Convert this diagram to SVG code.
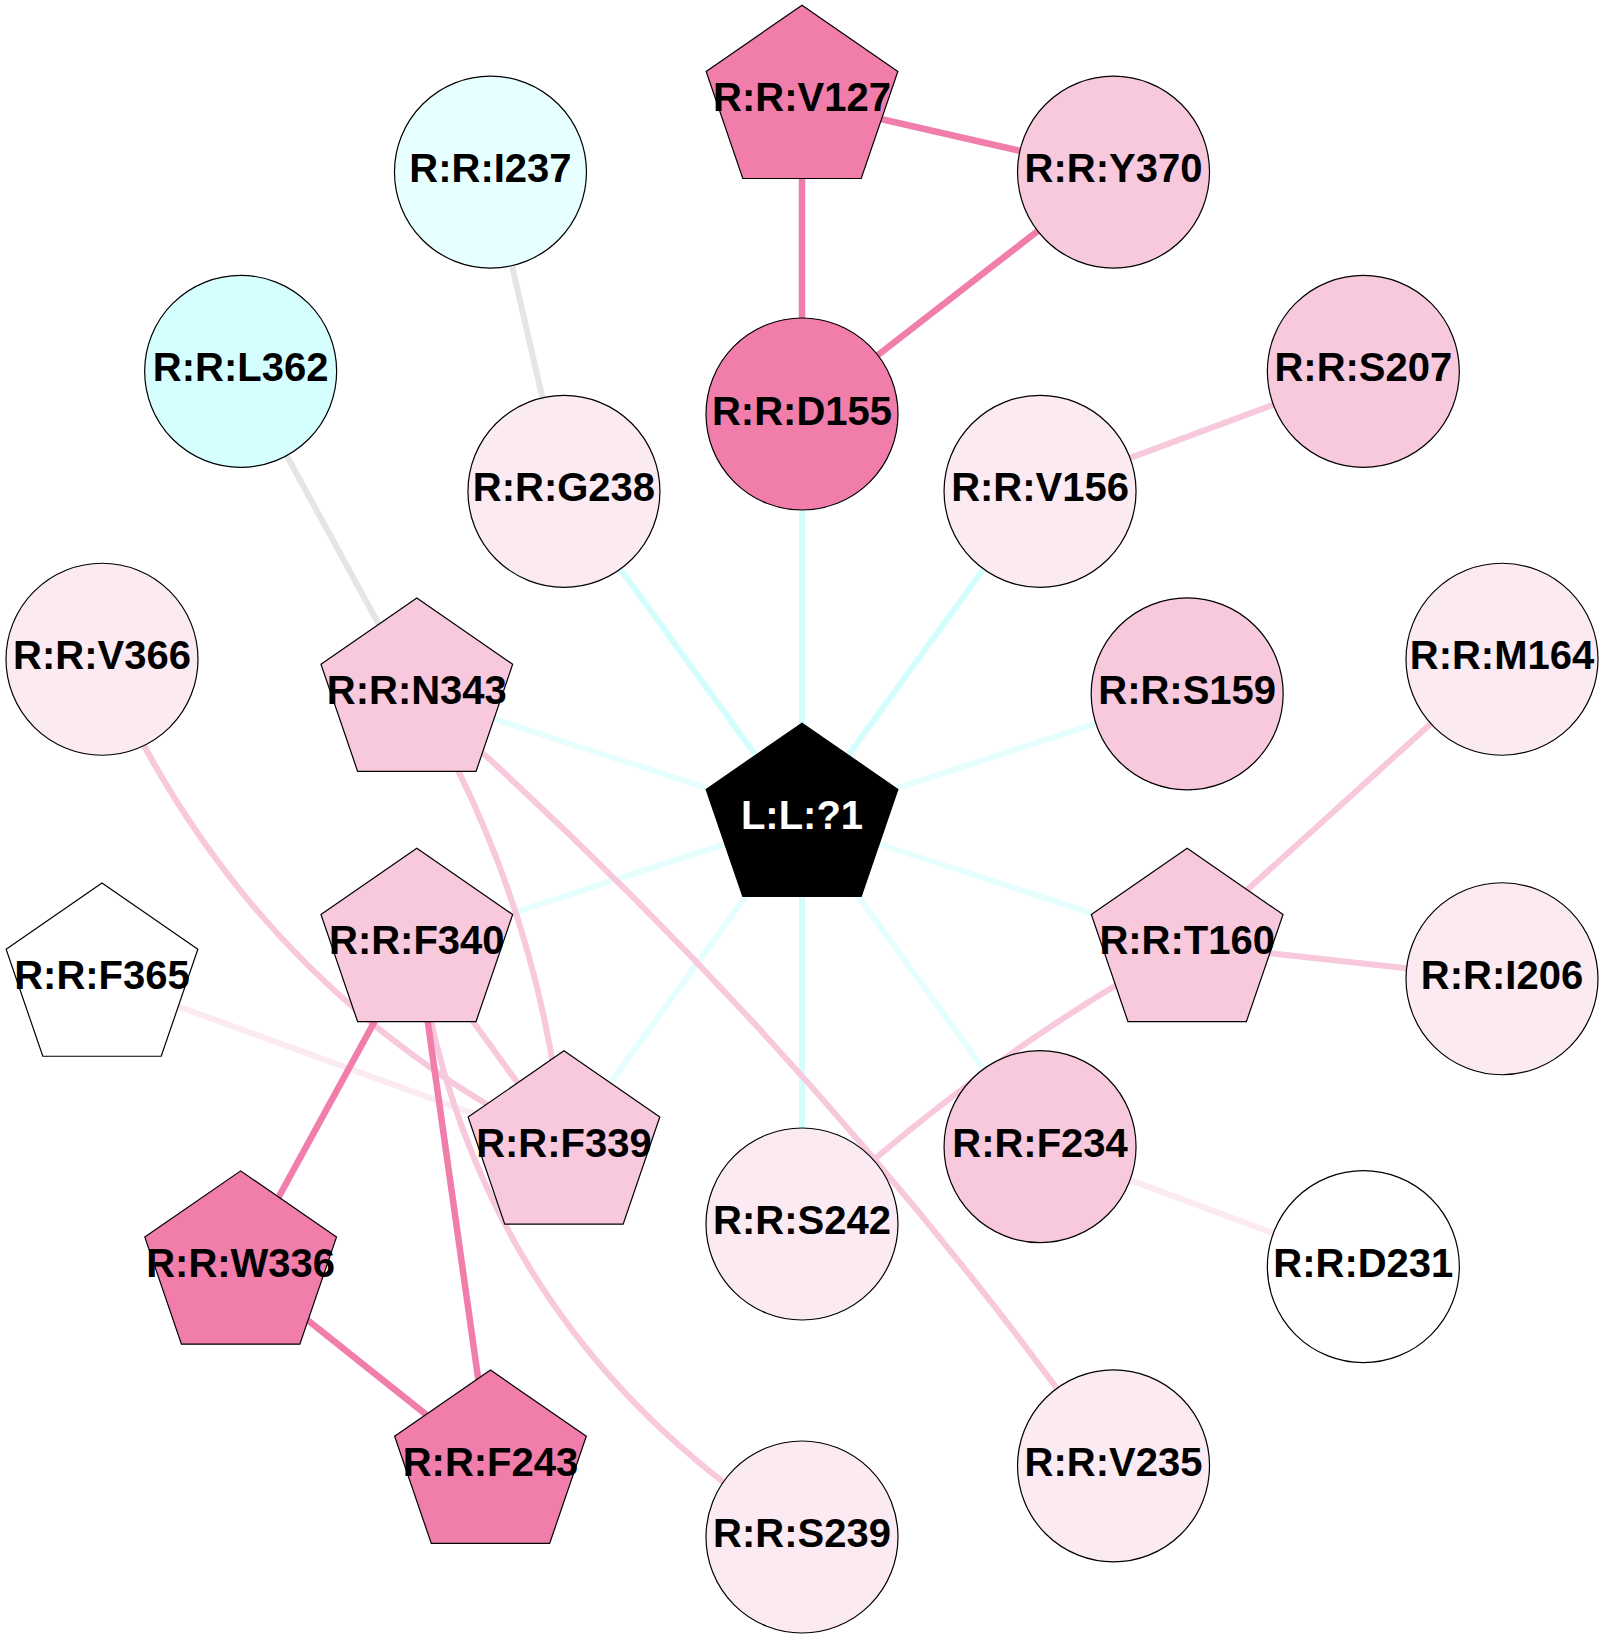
<svg xmlns="http://www.w3.org/2000/svg" width="1604" height="1640" viewBox="0 0 1604 1640">
<style>
.e{fill:none;stroke-linecap:butt}
.e-dk{stroke:#f07daa;stroke-width:6.5}
.e-md{stroke:#f8c8dc;stroke-width:6}
.e-lt{stroke:#fbeaf2;stroke-width:6}
.e-gr{stroke:#e5e5e5;stroke-width:6}
.e-cs{stroke:#d4fefe;stroke-width:6}
.e-cl{stroke:#e6fefe;stroke-width:6}
.n{stroke:#000;stroke-width:1.2}
.dk{fill:#f07daa}
.md{fill:#f8c8dc}
.lt{fill:#fbeaf2}
.wh{fill:#ffffff}
.cy1{fill:#e8ffff}
.cy2{fill:#d5ffff}
.blk{fill:#000000;stroke:#000}
text{font-family:"Liberation Sans",Arial,sans-serif;font-weight:bold;font-size:40px;text-anchor:middle;fill:#000}
text.w{fill:#fff}
</style>
<defs>
<polygon id="pent" points="0,-95.8 95.85,-29.6 59.2,77.5 -59.2,77.5 -95.85,-29.6"/>
</defs>
<rect width="1604" height="1640" fill="#fff"/>
<g id="edges">
<line class="e e-cs" x1="802" y1="819" x2="802" y2="414"/>
<line class="e e-cs" x1="802" y1="819" x2="1040.05" y2="491.35"/>
<line class="e e-cl" x1="802" y1="819" x2="1187.18" y2="693.85"/>
<line class="e e-cl" x1="802" y1="819" x2="1187.18" y2="944.15"/>
<line class="e e-cl" x1="802" y1="819" x2="1040.05" y2="1146.65"/>
<line class="e e-cs" x1="802" y1="819" x2="802" y2="1224"/>
<line class="e e-cl" x1="802" y1="819" x2="563.95" y2="1146.65"/>
<line class="e e-cl" x1="802" y1="819" x2="416.82" y2="944.15"/>
<line class="e e-cl" x1="802" y1="819" x2="416.82" y2="693.85"/>
<line class="e e-cs" x1="802" y1="819" x2="563.95" y2="491.35"/>
<line class="e e-dk" x1="802" y1="101" x2="802" y2="414"/>
<line class="e e-dk" x1="802" y1="101" x2="1113.53" y2="172.1"/>
<line class="e e-dk" x1="1113.53" y1="172.1" x2="802" y2="414"/>
<line class="e e-gr" x1="490.47" y1="172.1" x2="563.95" y2="491.35"/>
<line class="e e-gr" x1="240.65" y1="371.33" x2="416.82" y2="693.85"/>
<line class="e e-md" x1="1040.05" y1="491.35" x2="1363.35" y2="371.33"/>
<line class="e e-md" x1="1502" y1="659.23" x2="1187.18" y2="944.15"/>
<line class="e e-md" x1="1187.18" y1="944.15" x2="1502" y2="978.77"/>
<path class="e e-md" d="M1187.18,944.15 Q977,1059.3 802,1224"/>
<line class="e e-lt" x1="1040.05" y1="1146.65" x2="1363.35" y2="1266.67"/>
<path class="e e-md" d="M416.82,693.85 Q809.7,1039.7 1113.53,1465.9"/>
<path class="e e-md" d="M416.82,693.85 Q540.8,903.9 563.95,1146.65"/>
<path class="e e-md" d="M102,659.23 Q243.7,987.6 563.95,1146.65"/>
<line class="e e-lt" x1="102" y1="978.77" x2="563.95" y2="1146.65"/>
<line class="e e-md" x1="416.82" y1="944.15" x2="563.95" y2="1146.65"/>
<path class="e e-md" d="M416.82,944.15 Q471.9,1330 802,1537"/>
<line class="e e-dk" x1="416.82" y1="944.15" x2="240.65" y2="1266.67"/>
<line class="e e-dk" x1="416.82" y1="944.15" x2="490.47" y2="1465.9"/>
<line class="e e-dk" x1="240.65" y1="1266.67" x2="490.47" y2="1465.9"/>
</g>
<g id="node-V127"><use href="#pent" x="802" y="101" class="n dk"/><text x="802" y="111">R:R:V127</text></g>
<g id="node-Y370"><circle class="n md" cx="1113.53" cy="172.1" r="96"/><text x="1113.53" y="182">R:R:Y370</text></g>
<g id="node-S207"><circle class="n md" cx="1363.35" cy="371.33" r="96"/><text x="1363.35" y="381">R:R:S207</text></g>
<g id="node-M164"><circle class="n lt" cx="1502" cy="659.23" r="96"/><text x="1502" y="669">R:R:M164</text></g>
<g id="node-I206"><circle class="n lt" cx="1502" cy="978.77" r="96"/><text x="1502" y="989">R:R:I206</text></g>
<g id="node-D231"><circle class="n wh" cx="1363.35" cy="1266.67" r="96"/><text x="1363.35" y="1277">R:R:D231</text></g>
<g id="node-V235"><circle class="n lt" cx="1113.53" cy="1465.9" r="96"/><text x="1113.53" y="1476">R:R:V235</text></g>
<g id="node-S239"><circle class="n lt" cx="802" cy="1537" r="96"/><text x="802" y="1547">R:R:S239</text></g>
<g id="node-F243"><use href="#pent" x="490.47" y="1465.9" class="n dk"/><text x="490.47" y="1476">R:R:F243</text></g>
<g id="node-W336"><use href="#pent" x="240.65" y="1266.67" class="n dk"/><text x="240.65" y="1277">R:R:W336</text></g>
<g id="node-F365"><use href="#pent" x="102" y="978.77" class="n wh"/><text x="102" y="989">R:R:F365</text></g>
<g id="node-V366"><circle class="n lt" cx="102" cy="659.23" r="96"/><text x="102" y="669">R:R:V366</text></g>
<g id="node-L362"><circle class="n cy2" cx="240.65" cy="371.33" r="96"/><text x="240.65" y="381">R:R:L362</text></g>
<g id="node-I237"><circle class="n cy1" cx="490.47" cy="172.1" r="96"/><text x="490.47" y="182">R:R:I237</text></g>
<g id="node-D155"><circle class="n dk" cx="802" cy="414" r="96"/><text x="802" y="425">R:R:D155</text></g>
<g id="node-V156"><circle class="n lt" cx="1040.05" cy="491.35" r="96"/><text x="1040.05" y="501">R:R:V156</text></g>
<g id="node-S159"><circle class="n md" cx="1187.18" cy="693.85" r="96"/><text x="1187.18" y="704">R:R:S159</text></g>
<g id="node-T160"><use href="#pent" x="1187.18" y="944.15" class="n md"/><text x="1187.18" y="954">R:R:T160</text></g>
<g id="node-F234"><circle class="n md" cx="1040.05" cy="1146.65" r="96"/><text x="1040.05" y="1157">R:R:F234</text></g>
<g id="node-S242"><circle class="n lt" cx="802" cy="1224" r="96"/><text x="802" y="1234">R:R:S242</text></g>
<g id="node-F339"><use href="#pent" x="563.95" y="1146.65" class="n md"/><text x="563.95" y="1157">R:R:F339</text></g>
<g id="node-F340"><use href="#pent" x="416.82" y="944.15" class="n md"/><text x="416.82" y="954">R:R:F340</text></g>
<g id="node-N343"><use href="#pent" x="416.82" y="693.85" class="n md"/><text x="416.82" y="704">R:R:N343</text></g>
<g id="node-G238"><circle class="n lt" cx="563.95" cy="491.35" r="96"/><text x="563.95" y="501">R:R:G238</text></g>
<g id="node-L1"><use href="#pent" x="802" y="819" class="n blk"/><text class="w" x="802" y="829">L:L:?1</text></g>
</svg>
